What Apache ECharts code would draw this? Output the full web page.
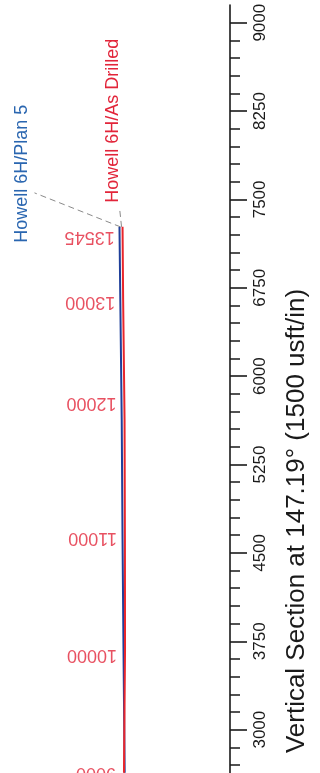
<!DOCTYPE html>
<html><head><meta charset="utf-8">
<script src="https://cdn.jsdelivr.net/npm/echarts@6/dist/echarts.min.js"></script>
<style>html,body{margin:0;padding:0;background:#fff}#c{width:320px;height:773px}</style>
</head><body><div id="c"></div>
<script>
// Vertical section (usft) and TVD (usft) at stations along each wellbore
const planVS = [7267, 6648, 5630, 4612, 3679, 2635];
const planTVD = [7413, 7420, 7432, 7439, 7447, 7457];
const drilledVS = [7267, 6648, 5630, 4612, 3679, 2635];
const drilledTVD = [7439, 7444, 7456, 7459, 7460, 7451];
// measured-depth annotations on the as-drilled path
const mdLabels = ['13545', '13000', '12000', '11000', '10000', '9000'];
const mdVS = [7183, 6631, 5774, 4629, 3636, 2635];
const mdTVD = [7440, 7445, 7455, 7459, 7460, 7451];
// vertical-section axis ticks
const vsMajorTicks = [3000, 3750, 4500, 5250, 6000, 6750, 7500, 8250, 9000];
const seriesNames = ['Howell 6H/Plan 5', 'Howell 6H/As Drilled'];
const axisTitle = 'Vertical Section at 147.19\u00b0 (1500 usft/in)';

const BLUE = '#1f3f9a', BLUE_TXT = '#2a66b0', RED = '#e8262c', RED_TXT = '#e2253a';
const FONT = 'Liberation Sans, Arial, sans-serif';

const vsMinorTicks = [];
for (let v = 2250; v <= 9000; v += 150) if (vsMajorTicks.indexOf(v) < 0) vsMinorTicks.push(v);

const chart = echarts.init(document.getElementById('c'), null, {renderer: 'canvas'});
const yBase = {type: 'value', position: 'right', min: 2250, max: 9150, splitLine: {show: false}};
chart.setOption({
  backgroundColor: '#ffffff',
  animation: false,
  grid: {left: 0, width: 230, top: 5, height: 813, containLabel: false, outerBoundsMode: 'none'},
  xAxis: {type: 'value', min: 6400, max: 8350, show: false},
  yAxis: [
    Object.assign({}, yBase, {
      interval: 750,
      axisLine: {show: true, onZero: false, lineStyle: {color: '#1a1a1a', width: 1.6}},
      axisTick: {show: true, length: 17, customValues: vsMajorTicks, lineStyle: {color: '#1a1a1a', width: 1.6}},
      axisLabel: {show: true, rotate: 90, margin: 22, customValues: vsMajorTicks, formatter: v => String(v),
                  fontSize: 17, color: '#1a1a1a', fontFamily: FONT}
    }),
    Object.assign({}, yBase, {
      interval: 150,
      axisLine: {show: false},
      axisTick: {show: true, length: 10, customValues: vsMinorTicks, lineStyle: {color: '#1a1a1a', width: 1.5}},
      axisLabel: {show: false}
    })
  ],
  series: [
    {name: seriesNames[0], type: 'line', yAxisIndex: 0, showSymbol: false, symbol: 'none',
     lineStyle: {color: BLUE, width: 2}, data: planVS.map((v, i) => [planTVD[i], v]), z: 3},
    {name: seriesNames[1], type: 'line', yAxisIndex: 0, showSymbol: false, symbol: 'none',
     lineStyle: {color: RED, width: 2}, data: drilledVS.map((v, i) => [drilledTVD[i], v]), z: 4},
    {type: 'scatter', yAxisIndex: 0, symbolSize: 0, silent: true,
     data: mdVS.map((v, i) => ({value: [mdTVD[i], v], name: mdLabels[i]})),
     label: {show: true, position: 'left', distance: 8, rotate: 180, align: 'left', verticalAlign: 'middle',
             formatter: p => p.name, color: RED_TXT, fontSize: 18, fontFamily: FONT}, z: 5}
  ]
});

// annotations: well name labels with dashed leaders to the path ends
const pEnd = chart.convertToPixel({xAxisIndex: 0, yAxisIndex: 0}, [planTVD[0], planVS[0]]);
const dEnd = chart.convertToPixel({xAxisIndex: 0, yAxisIndex: 0}, [drilledTVD[0], drilledVS[0]]);
const dash = {stroke: '#8a8a8a', lineWidth: 1, lineDash: [6, 4]};
chart.setOption({
  graphic: [
    {type: 'text', x: 297, y: 521, rotation: Math.PI / 2,
     style: {text: axisTitle, font: '26px ' + FONT, fill: '#1a1a1a', align: 'center', verticalAlign: 'middle'}},
    {type: 'text', x: dEnd[0] - 10, y: dEnd[1] - 24, rotation: Math.PI / 2,
     style: {text: seriesNames[1], font: '18px ' + FONT, fill: RED_TXT, align: 'left', verticalAlign: 'middle'}},
    {type: 'text', x: pEnd[0] - 97, y: pEnd[1] + 16, rotation: Math.PI / 2,
     style: {text: seriesNames[0], font: '18px ' + FONT, fill: BLUE_TXT, align: 'left', verticalAlign: 'middle'}},
    {type: 'line', shape: {x1: dEnd[0] - 1, y1: dEnd[1], x2: dEnd[0] - 3, y2: dEnd[1] - 19}, style: dash},
    {type: 'line', shape: {x1: pEnd[0] + 1, y1: pEnd[1], x2: pEnd[0] - 85, y2: pEnd[1] - 34}, style: dash}
  ]
});
</script>
</body></html>
